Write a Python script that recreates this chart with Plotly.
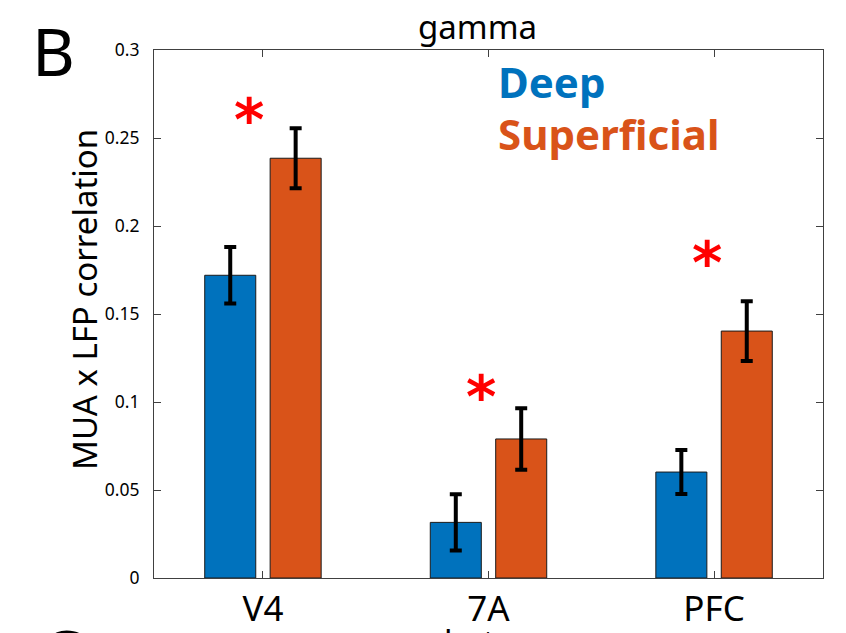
import plotly.graph_objects as go

# ---- data ----
regions = ["V4", "7A", "PFC"]
deep_vals = [0.172, 0.0316, 0.0602]
deep_err = [0.016, 0.016, 0.0125]
sup_vals = [0.2385, 0.079, 0.1403]
sup_err = [0.017, 0.0175, 0.017]
star_y = [0.268, 0.111, 0.187]
yticks = [0, 0.05, 0.1, 0.15, 0.2, 0.25, 0.3]
ytick_labels = ["0", "0.05", "0.1", "0.15", "0.2", "0.25", "0.3"]

BLUE = "#0072BD"
ORANGE = "#D95319"
AX = "#404040"
FONT = "Noto Sans"

W, H = 846, 633
L, R, T, B = 154, 823, 50, 578


def px(x):
    return (x - L) / (R - L)


def py(y):
    return (B - y) / (B - T)


fig = go.Figure()
err_style = dict(type="data", thickness=4, width=6, color="black", symmetric=True)
fig.add_trace(go.Bar(x=regions, y=deep_vals, name="Deep", marker_color=BLUE,
                     marker_line=dict(color="#1a1a1a", width=1),
                     error_y=dict(array=deep_err, **err_style)))
fig.add_trace(go.Bar(x=regions, y=sup_vals, name="Superficial", marker_color=ORANGE,
                     marker_line=dict(color="#1a1a1a", width=1),
                     error_y=dict(array=sup_err, **err_style)))

# significance asterisks (slightly left of category centre)
star_dx = [-0.06, -0.033, -0.031]
for i, r in enumerate(regions):
    fig.add_annotation(x=i + star_dx[i], y=star_y[i], xref="x", yref="y",
                       text="<b>*</b>", showarrow=False,
                       font=dict(family="DejaVu Sans", size=58, color="#FF0000"),
                       xanchor="center", yanchor="middle", yshift=-14)

ann_font = dict(family=FONT, color="black")
# panel letter
fig.add_annotation(x=px(30), y=py(50), xref="paper", yref="paper", text="B",
                   showarrow=False, xanchor="left", yanchor="middle",
                   font=dict(size=66, **ann_font))
# title
fig.add_annotation(x=px(477), y=py(26), xref="paper", yref="paper", text="gamma",
                   showarrow=False, xanchor="center", yanchor="middle",
                   font=dict(size=33, **ann_font))
# legend texts
fig.add_annotation(x=px(496), y=py(82), xref="paper", yref="paper", text="<b>Deep</b>",
                   showarrow=False, xanchor="left", yanchor="middle",
                   font=dict(family=FONT, size=42, color=BLUE))
fig.add_annotation(x=px(496), y=py(133), xref="paper", yref="paper", text="<b>Superficial</b>",
                   showarrow=False, xanchor="left", yanchor="middle",
                   font=dict(family=FONT, size=42, color=ORANGE))
# y-axis label
fig.add_annotation(x=px(84), y=py(300), xref="paper", yref="paper",
                   text="MUA x LFP correlation", textangle=-90,
                   showarrow=False, xanchor="center", yanchor="middle",
                   font=dict(size=33, **ann_font))
# next panel, cut off at bottom (only the tops of the glyphs are visible)
fig.add_annotation(x=px(38), y=py(605), xref="paper", yref="paper", text="C",
                   showarrow=False, xanchor="left", yanchor="top",
                   font=dict(size=66, **ann_font))
fig.add_annotation(x=px(442), y=py(617), xref="paper", yref="paper", text="beta",
                   showarrow=False, xanchor="left", yanchor="top",
                   font=dict(size=33, **ann_font))

fig.update_layout(
    width=W, height=H,
    margin=dict(l=L, r=W - R, t=T, b=H - B, pad=0, autoexpand=False),
    paper_bgcolor="white", plot_bgcolor="white",
    barmode="group", bargap=0.42, bargroupgap=0.22,
    showlegend=False,
    font=dict(family=FONT, color="#262626"),
)
fig.update_xaxes(
    range=[-0.483, 2.483], showline=True, linecolor=AX, linewidth=1, mirror="ticks",
    ticks="inside", ticklen=7, tickcolor=AX, tickwidth=1, automargin=False,
    tickfont=dict(size=35, color="black", family=FONT), ticklabelstandoff=0,
    showgrid=False, zeroline=False,
)
fig.update_yaxes(
    range=[0, 0.3], tickvals=yticks, ticktext=ytick_labels,
    showline=True, linecolor=AX, linewidth=1, mirror="ticks", automargin=False,
    ticks="inside", ticklen=7, tickcolor=AX, tickwidth=1,
    tickfont=dict(size=17.5, color="black", family=FONT), ticklabelstandoff=10,
    showgrid=False, zeroline=False,
)

fig.write_html("out.html")
